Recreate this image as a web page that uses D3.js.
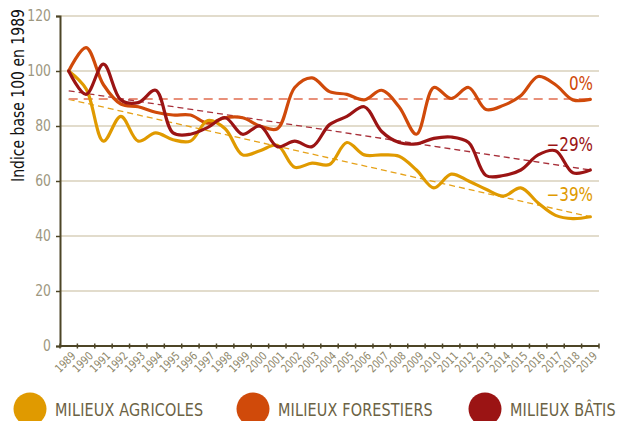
<!DOCTYPE html>
<html lang="fr">
<head>
  <meta charset="UTF-8">
  <title>Indice base 100 en 1989</title>
  <script src="https://d3js.org/d3.v7.min.js"></script>
  <style>
    body { margin: 0; background: #fff; }
    svg { display: block; font-family: "DejaVu Sans", sans-serif; }
  </style>
</head>
<body>
  <div id="chart"></div>
  <script>
    // years on the x axis
    const years = d3.range(1989, 2020);

    // series values (index base 100 in 1989)
    const agricoles = [100, 93.5, 74.5, 83.5, 74.5, 77.5, 75, 74.5, 82, 79, 69.5, 71, 73, 65, 66.5, 66,
      74, 69.5, 69.5, 69, 64, 57.5, 62.5, 60, 57, 54.5, 57.5, 52, 47.5, 46.3, 47];
    const forestiers = [100, 108.5, 95, 88, 87, 85, 84, 84, 81, 83, 83, 80, 79, 94, 97.5, 92.5,
      91.5, 89.5, 93, 87, 77, 94, 90, 94, 86, 87.5, 91, 98, 95, 89.5, 89.7];
    const batis = [100, 91.5, 102.5, 89.5, 88.5, 93, 77.5, 77, 79.5, 83, 77, 80, 72.5, 74.5, 72.5, 80.5,
      83.5, 87, 78, 74, 73.5, 75.5, 76, 74, 62, 62, 64, 69.5, 71, 63, 64];

    // trend lines: value in 1989 and in 2019
    const trendAgricoles = [89.7, 47];
    const trendForestiers = [89.8, 89.8];
    const trendBatis = [92.8, 64];

    const trendLabels = ['−39%', '0%', '−29%'];
    const seriesNames = ['MILIEUX AGRICOLES', 'MILIEUX FORESTIERS', 'MILIEUX BÂTIS'];
    const yTicks = [0, 20, 40, 60, 80, 100, 120];

    const colors = ['#e09a00', '#d04a0a', '#9b1414'];
    const trendColors = ['#e6a21a', '#e8907a', '#a8303a'];

    const width = 630, height = 421;
    const margin = { top: 16, right: 31, bottom: 75, left: 60 };
    const narrow = 0.8; // horizontal squeeze to mimic a condensed face

    const svg = d3.select('#chart').append('svg')
      .attr('width', width)
      .attr('height', height);

    const x = d3.scaleBand()
      .domain(years)
      .range([margin.left, width - margin.right])
      .paddingInner(0);
    const cx = d => x(d) + x.bandwidth() / 2;

    const y = d3.scaleLinear()
      .domain([0, 120])
      .range([height - margin.bottom, margin.top]);

    // gridlines
    svg.append('g')
      .selectAll('line')
      .data(yTicks.filter(d => d > 0))
      .enter()
      .append('line')
      .attr('x1', margin.left)
      .attr('x2', width - margin.right)
      .attr('y1', d => y(d))
      .attr('y2', d => y(d))
      .attr('stroke', '#d9d0bb')
      .attr('stroke-width', 1.5);

    // y axis
    const yAxis = svg.append('g')
      .attr('transform', `translate(${margin.left},0)`)
      .call(d3.axisLeft(y).tickValues(yTicks).tickSize(4).tickPadding(5));
    yAxis.select('.domain').attr('stroke', '#4d4526').attr('stroke-width', 2);
    yAxis.selectAll('.tick line').attr('stroke', '#4d4526').attr('stroke-width', 1.5);
    yAxis.selectAll('.tick text')
      .attr('fill', '#9d977f')
      .attr('x', null)
      .attr('transform', `translate(-9,0) scale(${narrow},1)`)
      .style('font-size', '15.5px')
      .style('font-family', '"DejaVu Sans", sans-serif');

    // x axis: ticks on band edges, labels on band centers
    const xBase = y(0);
    const edges = years.map(d => x(d)).concat([x(years[years.length - 1]) + x.bandwidth()]);
    svg.append('line')
      .attr('x1', margin.left)
      .attr('x2', width - margin.right)
      .attr('y1', xBase)
      .attr('y2', xBase)
      .attr('stroke', '#4d4526')
      .attr('stroke-width', 2);
    svg.append('g')
      .selectAll('line')
      .data(edges)
      .enter()
      .append('line')
      .attr('x1', d => d)
      .attr('x2', d => d)
      .attr('y1', xBase - 2.5)
      .attr('y2', xBase + 2.5)
      .attr('stroke', '#4d4526')
      .attr('stroke-width', 1.5);
    svg.append('g')
      .selectAll('text')
      .data(years)
      .enter()
      .append('text')
      .attr('transform', d => `translate(${cx(d) + 2},${xBase + 5}) rotate(-45) scale(${narrow},1)`)
      .attr('text-anchor', 'end')
      .attr('dy', '0.7em')
      .attr('fill', '#8e876b')
      .style('font-size', '11.5px')
      .text(d => d);

    // y axis title
    svg.append('text')
      .attr('transform', `translate(24,${(y(120) + y(60)) / 2 - 3}) rotate(-90) scale(${narrow},1)`)
      .attr('text-anchor', 'middle')
      .attr('fill', '#111')
      .style('font-size', '17.5px')
      .text('Indice base 100 en 1989');

    // trend lines
    const trends = [trendAgricoles, trendForestiers, trendBatis];
    const trendStyles = [
      { w: 1.3, dash: '6,4' },
      { w: 2, dash: '9,6' },
      { w: 1.3, dash: '6,4' }
    ];
    trends.forEach((t, i) => {
      svg.append('line')
        .attr('x1', cx(years[0]))
        .attr('x2', cx(years[years.length - 1]))
        .attr('y1', y(t[0]))
        .attr('y2', y(t[1]))
        .attr('stroke', trendColors[i])
        .attr('stroke-width', trendStyles[i].w)
        .attr('stroke-dasharray', trendStyles[i].dash);
    });

    // series lines
    const line = d3.line()
      .x((d, i) => cx(years[i]))
      .y(d => y(d))
      .curve(d3.curveCatmullRom.alpha(0.5));

    const series = [agricoles, forestiers, batis];
    // draw order: forestiers, agricoles, batis on top
    [1, 0, 2].forEach(i => {
      svg.append('path')
        .datum(series[i])
        .attr('d', line)
        .attr('fill', 'none')
        .attr('stroke', colors[i])
        .attr('stroke-width', 3.2)
        .attr('stroke-linejoin', 'round')
        .attr('stroke-linecap', 'round');
    });

    // percentage labels above the trend ends
    const labelYOffset = [-16, -9, -19];
    trends.forEach((t, i) => {
      svg.append('text')
        .attr('transform', `translate(${width - margin.right - 6},${y(t[1]) + labelYOffset[i]}) scale(${narrow},1)`)
        .attr('text-anchor', 'end')
        .attr('fill', colors[i])
        .style('font-size', '19px')
        .text(trendLabels[i]);
    });

    // legend
    const legendX = [30, 253, 485];
    const legend = svg.append('g');
    seriesNames.forEach((name, i) => {
      legend.append('circle')
        .attr('cx', legendX[i])
        .attr('cy', 409)
        .attr('r', 16.5)
        .attr('fill', colors[i]);
      legend.append('text')
        .attr('transform', `translate(${legendX[i] + 25},416) scale(${narrow},1)`)
        .attr('fill', '#6b6244')
        .style('font-size', '18px')
        .style('letter-spacing', '0.2px')
        .text(name);
    });
  </script>
</body>
</html>
